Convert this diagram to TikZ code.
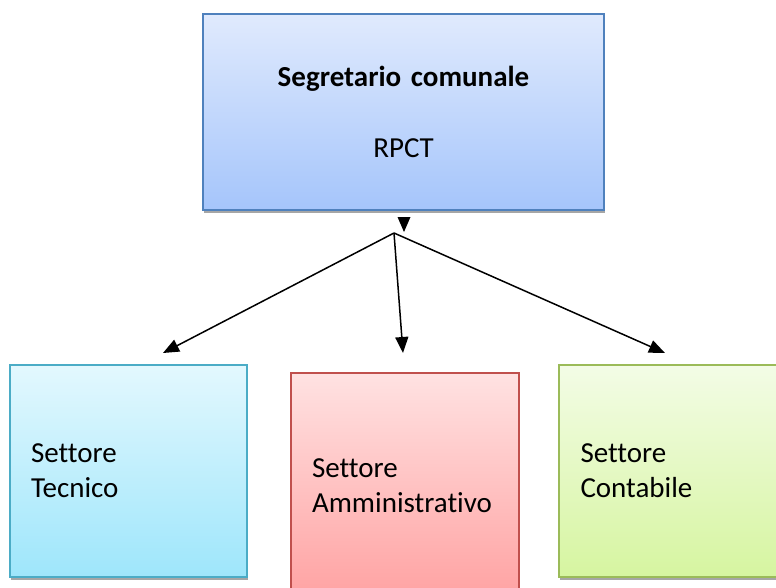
\documentclass[tikz,border=0pt]{standalone}
\usepackage{fontspec}
\setmainfont[Ligatures=NoCommon]{Carlito}
\usetikzlibrary{arrows.meta,shadows}
\definecolor{topB}{RGB}{79,129,189}
\definecolor{topT}{RGB}{224,234,253}
\definecolor{topBt}{RGB}{165,197,251}
\definecolor{tecB}{RGB}{75,172,198}
\definecolor{tecT}{RGB}{227,248,254}
\definecolor{tecBt}{RGB}{158,230,251}
\definecolor{amB}{RGB}{192,80,77}
\definecolor{amT}{RGB}{255,226,226}
\definecolor{amBt}{RGB}{255,162,162}
\definecolor{coB}{RGB}{155,187,89}
\definecolor{coT}{RGB}{243,252,230}
\definecolor{coBt}{RGB}{214,245,160}
\begin{document}
\begin{tikzpicture}[x=1pt,y=-1pt,
  every node/.style={font=\fontsize{29}{35}\selectfont},
  boxshadow/.style={drop shadow={shadow xshift=1pt,shadow yshift=-3pt,fill=black!35,opacity=1}},
  orgbox/.style={rectangle,line width=1.3pt,boxshadow,inner ysep=0pt,inner xsep=21pt,align=left},
  conn/.style={line width=1.5pt,-{Triangle[length=16pt,width=13pt]}}]
\useasboundingbox (0,0) rectangle (776,588);
% top box
\node[orgbox,draw=topB,top color=topT,bottom color=topBt,minimum width=401pt,minimum height=196pt,align=center,text width=359pt]
  (seg) at (403.5,112) {\textbf{Segretario comunale}\\[36pt]RPCT};
% bottom boxes
\node[orgbox,draw=tecB,top color=tecT,bottom color=tecBt,minimum width=237pt,minimum height=212pt,text width=195pt]
  (tec) at (128.5,471) {Settore\\Tecnico};
\node[orgbox,draw=amB,top color=amT,bottom color=amBt,minimum width=228pt,minimum height=226pt,text width=186pt]
  (amm) at (405,486) {Settore\\Amministrativo};
\node[orgbox,draw=coB,top color=coT,bottom color=coBt,minimum width=231pt,minimum height=212pt,text width=188pt]
  (con) at (674.5,471) {Settore\\Contabile};
% connectors
\coordinate (j) at (394,233);
\coordinate (tl) at (163,353);
\coordinate (tm) at (403,353);
\coordinate (tr) at (665,353);
\coordinate (tip) at (404,232);
\draw[conn] (j) -- (tl);
\draw[conn] (j) -- (tm);
\draw[conn] (j) -- (tr);
\fill (tip) -- ++(-6.5,-15) -- ++(13,0) -- cycle;
\end{tikzpicture}
\end{document}
